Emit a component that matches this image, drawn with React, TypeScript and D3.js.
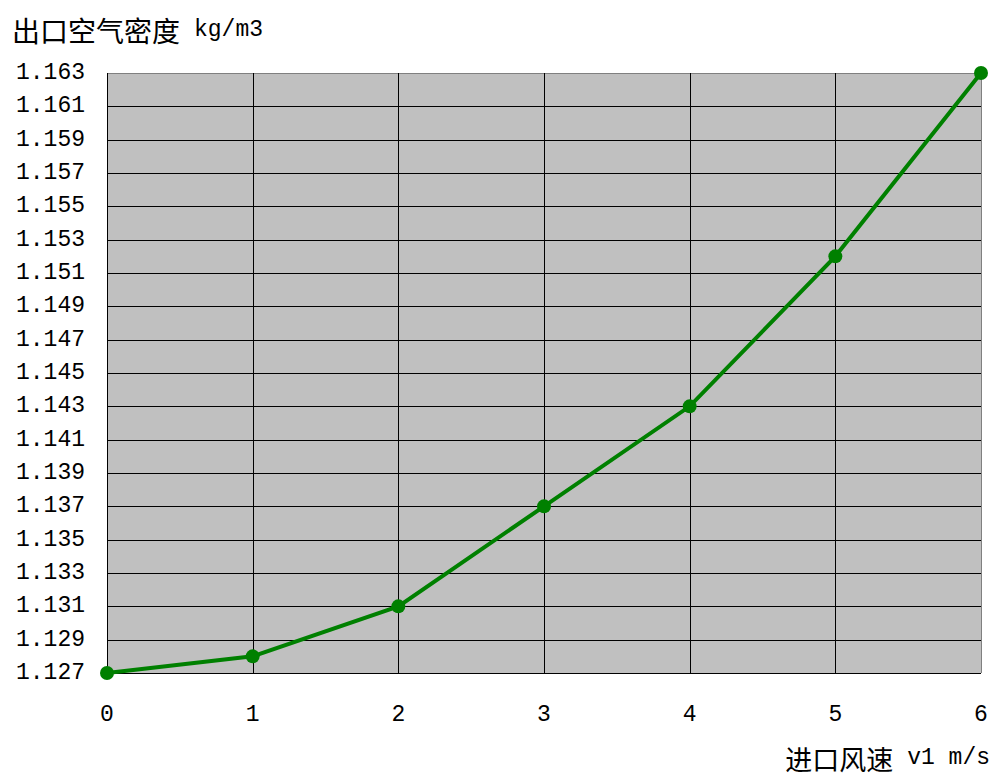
import React from 'react';
import * as d3 from 'd3';

// data
const speeds = [0, 1, 2, 3, 4, 5, 6];
const densities = [1.127, 1.128, 1.131, 1.137, 1.143, 1.152, 1.163];
const yTicks = [1.127, 1.129, 1.131, 1.133, 1.135, 1.137, 1.139, 1.141, 1.143, 1.145, 1.147, 1.149, 1.151, 1.153, 1.155, 1.157, 1.159, 1.161, 1.163];
const yTitle = '出口空气密度';
const yUnit = 'kg/m3';
const xTitle = '进口风速';
const xUnit = 'v1 m/s';

const W = 993;
const H = 780;
const margin = { left: 107, right: 12, top: 73, bottom: 107 };

const monoFont = '"Liberation Mono", "DejaVu Sans Mono", monospace';
const cjkFont = '"Noto Sans CJK SC", sans-serif';

export default function App() {
  const x = d3.scaleLinear().domain([0, 6]).range([margin.left, W - margin.right]);
  const y = d3.scaleLinear().domain([1.127, 1.163]).range([H - margin.bottom, margin.top]);

  const line = d3.line<number>()
    .x((_, i) => x(speeds[i]))
    .y(d => y(d));

  const [x0, x1] = x.range();
  const [y0, y1] = y.range();

  return (
    <svg width={W} height={H} style={{ position: 'absolute', left: 0, top: 0, background: '#fff' }}>
      <rect x={x0} y={y1} width={x1 - x0} height={y0 - y1} fill="#c0c0c0" />

      {/* horizontal grid */}
      {yTicks.map(t => (
        <line key={'h' + t} x1={x0} x2={x1} y1={Math.round(y(t)) + 0.5} y2={Math.round(y(t)) + 0.5}
          stroke={t === 1.163 ? '#808080' : '#000'} strokeWidth={1} />
      ))}
      {/* vertical grid */}
      {speeds.map(s => (
        <line key={'v' + s} x1={Math.round(x(s)) + 0.5} x2={Math.round(x(s)) + 0.5} y1={y1} y2={y0}
          stroke={s === 6 ? '#808080' : '#000'} strokeWidth={1} />
      ))}

      {/* y tick labels */}
      {yTicks.map(t => (
        <text key={'yl' + t} x={85} y={y(t)} textAnchor="end" dominantBaseline="central"
          fontFamily={monoFont} fontSize={23} fill="#000">{t.toFixed(3)}</text>
      ))}
      {/* x tick labels */}
      {speeds.map(s => (
        <text key={'xl' + s} x={x(s)} y={715} textAnchor="middle" dominantBaseline="central"
          fontFamily={monoFont} fontSize={23} fill="#000">{s}</text>
      ))}

      {/* series */}
      <path d={line(densities) ?? ''} fill="none" stroke="#008000" strokeWidth={4} />
      {densities.map((d, i) => (
        <circle key={'p' + i} cx={x(speeds[i])} cy={y(d)} r={7} fill="#008000" />
      ))}

      {/* axis titles */}
      <text x={12} y={30} dominantBaseline="central" fill="#000">
        <tspan fontFamily={cjkFont} fontSize={28}>{yTitle}</tspan>
        <tspan fontFamily={monoFont} fontSize={23} dx={14}>{yUnit}</tspan>
      </text>
      <text x={990} y={758} textAnchor="end" dominantBaseline="central" fill="#000">
        <tspan fontFamily={cjkFont} fontSize={27}>{xTitle}</tspan>
        <tspan fontFamily={monoFont} fontSize={23} dx={14}>{xUnit}</tspan>
      </text>
    </svg>
  );
}
